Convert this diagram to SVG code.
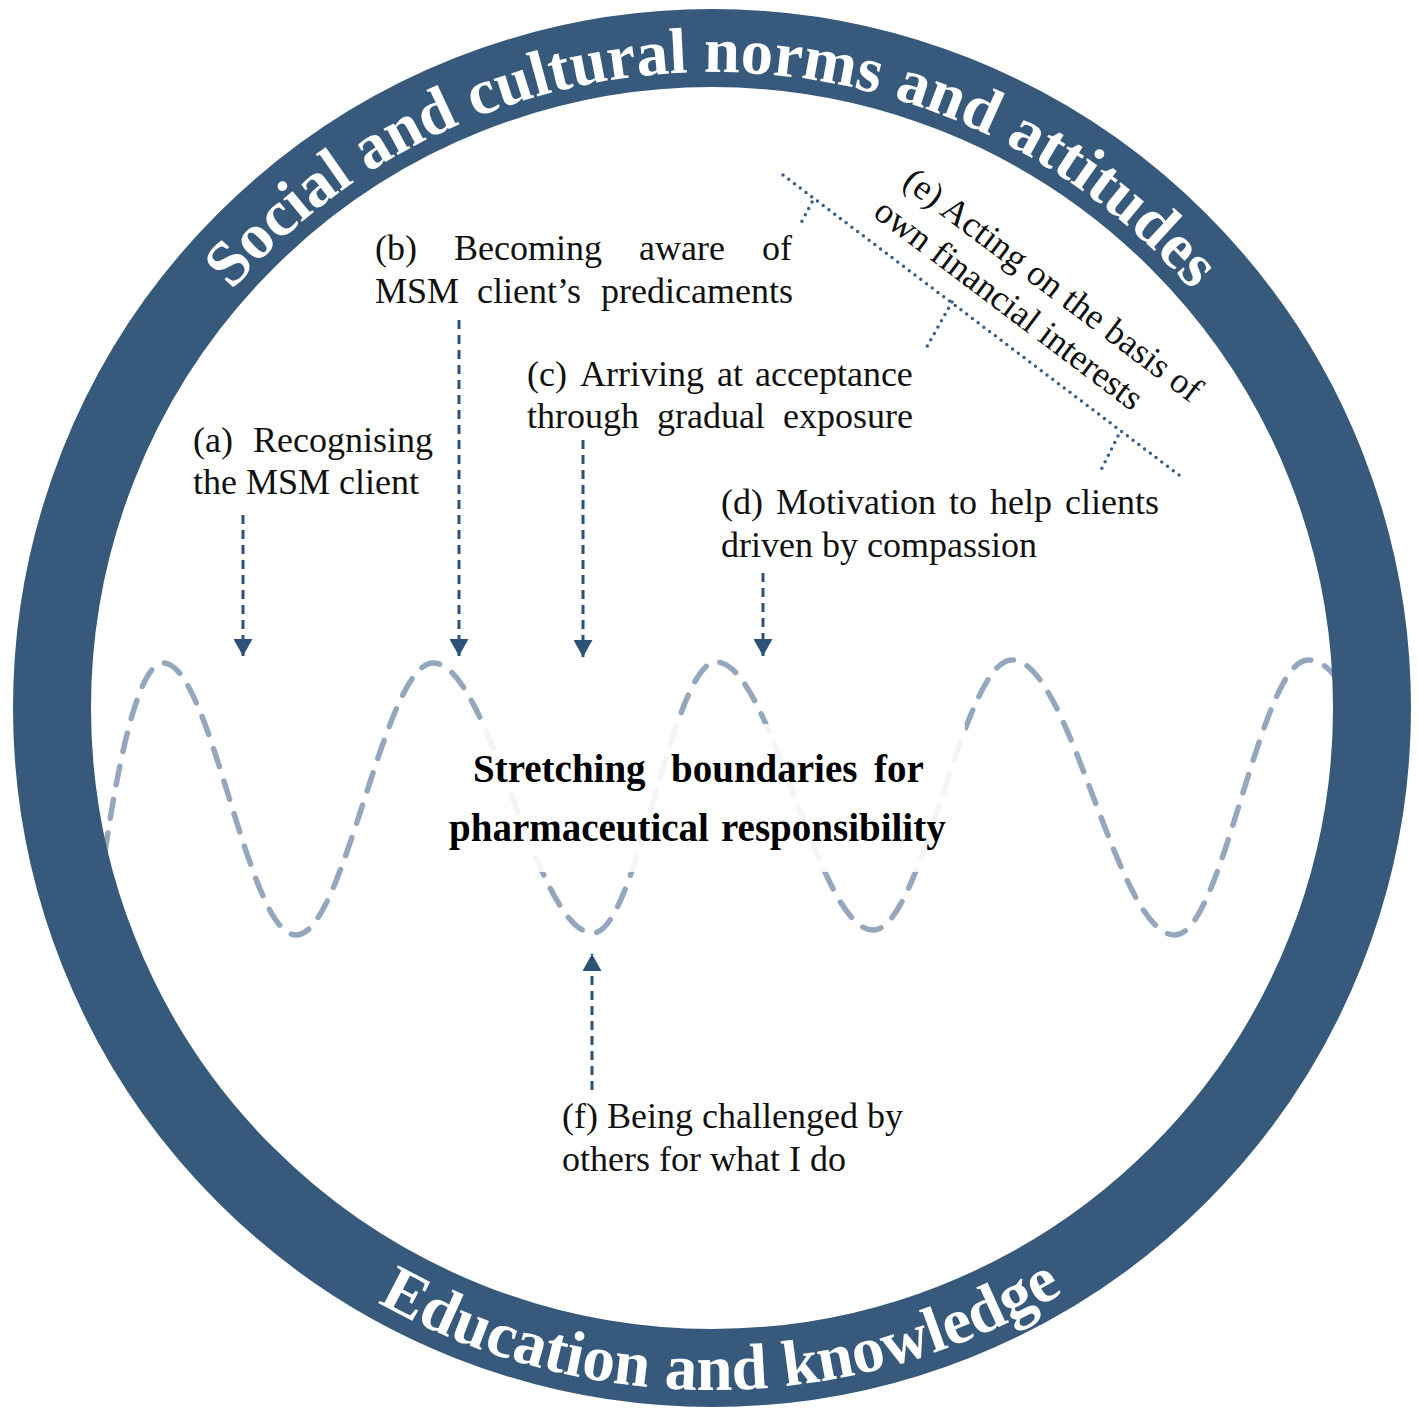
<svg xmlns="http://www.w3.org/2000/svg" width="1418" height="1410" viewBox="0 0 1418 1410">
<style>
.lbl{font-family:"Liberation Serif","Times New Roman",serif;font-size:36px;fill:#111}
.ctr{font-family:"Liberation Serif","Times New Roman",serif;font-size:39px;font-weight:bold;fill:#000}
.ring{font-family:"Liberation Serif","Times New Roman",serif;font-weight:bold;fill:#fff}
.arr{stroke:#2d5178;stroke-width:3;stroke-dasharray:9 6;fill:none}
.dot{stroke:#3a5f85;stroke-width:3.5;stroke-linecap:round;stroke-dasharray:0 7.2;fill:none}
</style>
<defs>
<marker id="ah" viewBox="0 0 17 19" refX="17" refY="9.5" markerWidth="17" markerHeight="19" markerUnits="userSpaceOnUse" orient="auto">
<path d="M0,0 L17,9.5 L0,19 z" fill="#2d5178"/>
</marker>
<path id="topArc" d="M 76 708 A 636 636 0 0 1 1348 708"/>
<path id="botArc" d="M 30 708 A 682 682 0 0 0 1394 708"/>
</defs>
<rect width="1418" height="1410" fill="#fff"/>
<g id="wave">
<path d="M 105 852 C 120 750 140 663 163 663 C 212 663 247 935 296 935 C 345 935 384 663 433 663 C 490 663 535 933 593 933 C 637 933 672 662 716 662 C 772 662 817 930 873 930 C 923 930 962 660 1012 660 C 1071 660 1116 935 1175 935 C 1223 935 1260 660 1308 660 C 1340 660 1360 720 1372 790" fill="none" stroke="#94a7bc" stroke-width="5.5" stroke-linecap="round" stroke-dasharray="19 15"/>
</g>
<g id="ring">
<circle cx="712" cy="708" r="660" fill="none" stroke="#36597c" stroke-width="78"/>
<text class="ring" font-size="64.5"><textPath href="#topArc" startOffset="50%" text-anchor="middle">Social and cultural norms and attitudes</textPath></text>
<text class="ring" font-size="65"><textPath href="#botArc" startOffset="1081" text-anchor="middle">Education and knowledge</textPath></text>
</g>
<g id="connectors">
<line class="arr" x1="243" y1="515" x2="243" y2="656" marker-end="url(#ah)"/>
<line class="arr" x1="459" y1="320" x2="459" y2="656" marker-end="url(#ah)"/>
<line class="arr" x1="583" y1="440" x2="583" y2="657" marker-end="url(#ah)"/>
<line class="arr" x1="763" y1="573" x2="763" y2="656" marker-end="url(#ah)"/>
<line class="arr" x1="592" y1="1090" x2="592" y2="954" marker-end="url(#ah)"/>
<line class="dot" x1="783" y1="175" x2="1183" y2="478"/>
<line class="dot" x1="812" y1="202" x2="801" y2="223"/>
<line class="dot" x1="952" y1="302" x2="925" y2="350"/>
<line class="dot" x1="1118" y1="436" x2="1100" y2="472"/>
</g>
<g id="center">
<rect x="445" y="724" width="520" height="148" fill="#fff" opacity="0.88"/>
<text class="ctr" x="473" y="782">Stretching</text>
<text class="ctr" x="671" y="782">boundaries</text>
<text class="ctr" x="874" y="782">for</text>
<text class="ctr" x="449" y="841">pharmaceutical</text>
<text class="ctr" x="721" y="841">responsibility</text>
</g>
<g id="node-a">
<text class="lbl" x="193" y="452">(a)</text>
<text class="lbl" x="253" y="452">Recognising</text>
<text class="lbl" x="193" y="494">the MSM client</text>
</g>
<g id="node-b">
<text class="lbl" x="375" y="260">(b)</text>
<text class="lbl" x="454" y="260">Becoming</text>
<text class="lbl" x="639" y="260">aware</text>
<text class="lbl" x="762" y="260">of</text>
<text class="lbl" x="375" y="303">MSM</text>
<text class="lbl" x="477" y="303">client’s</text>
<text class="lbl" x="601" y="303">predicaments</text>
</g>
<g id="node-c">
<text class="lbl" x="527" y="386">(c)</text>
<text class="lbl" x="580" y="386">Arriving</text>
<text class="lbl" x="717" y="386">at</text>
<text class="lbl" x="755" y="386">acceptance</text>
<text class="lbl" x="527" y="428">through</text>
<text class="lbl" x="657" y="428">gradual</text>
<text class="lbl" x="783" y="428">exposure</text>
</g>
<g id="node-d">
<text class="lbl" x="721" y="514" word-spacing="4">(d) Motivation to help clients</text>
<text class="lbl" x="721" y="557">driven by compassion</text>
</g>
<g id="node-e">
<g transform="translate(901,185) rotate(37)">
<text class="lbl" x="0" y="0">(e) Acting on the basis of</text>
<text class="lbl" x="-5" y="42">own financial interests</text>
</g>
</g>
<g id="node-f">
<text class="lbl" x="562" y="1128">(f) Being challenged by</text>
<text class="lbl" x="562" y="1171">others for what I do</text>
</g>
</svg>
